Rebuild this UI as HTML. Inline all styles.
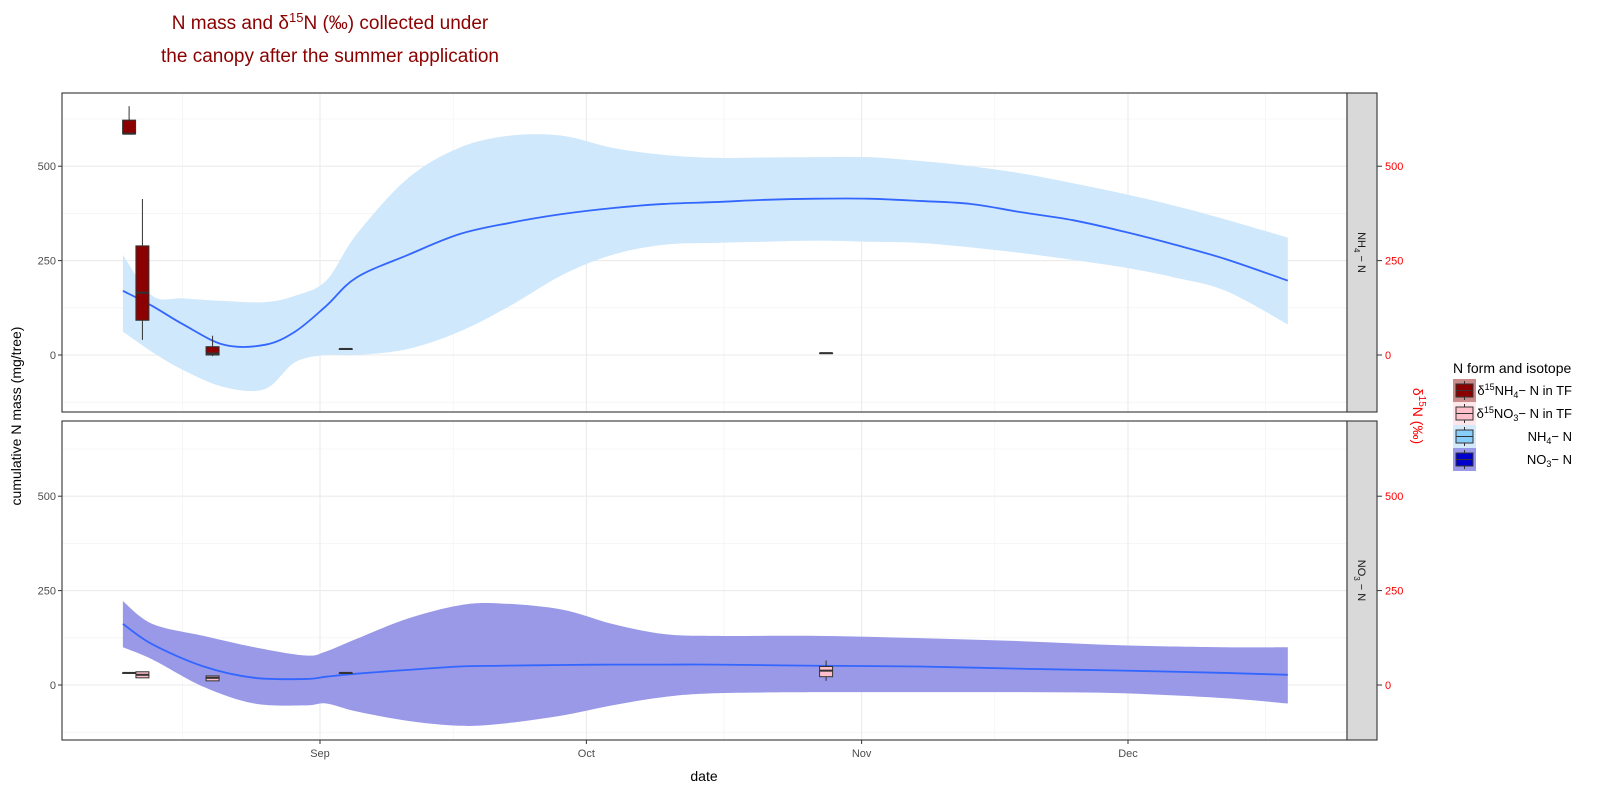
<!DOCTYPE html>
<html><head><meta charset="utf-8"><style>
body{margin:0;background:#fff;}
svg{display:block;font-family:"Liberation Sans",sans-serif;}
</style></head><body>
<svg id="chart" width="1601" height="788" xmlns="http://www.w3.org/2000/svg"></svg>
<script>
// ---- data (x = days since Sep 1) ----
const xTickLabels = ["Sep","Oct","Nov","Dec"];
const xTickDays = [0,30,61,91];
const yTickValues = [0,250,500];
// NH4 smooth
const nh4Days = [-22.2,-18.9,-15.4,-10.8,-6.2,-2.8,0.7,4.1,9.9,15.7,21.4,27.2,32.9,38.7,44.5,50.2,56,61.7,67.5,73.3,79,84.8,90.5,96.3,102,109];
const nh4Fit = [170,130,81,27,27,62,130,205,265,320,350,373,389,400,405,411,414,414,408,400,378,357,327,292,254,197];
const nh4Hi = [265,157,150,143,140,157,197,319,468,549,581,581,549,530,522,523,524,524,514,500,481,455,427,395,359,311];
const nh4Lo = [62,8,-40,-85,-90,-19,0,0,16,62,130,211,265,292,297,300,303,300,297,285,270,252,232,205,170,81];
// NO3 smooth
const no3Days = [-22.2,-18.9,-13.1,-7.4,-1.6,0.7,4.1,9.9,15.7,20.3,27.2,32.9,38.7,44.5,56,67.5,79,90.5,102,109];
const no3Fit = [162,108,49,19,16,22,30,40,49,51,53,54,54,54,51,49,43,38,32,27];
const no3Hi = [222,162,130,100,78,89,122,176,211,216,200,162,135,130,130,124,116,105,100,100];
const no3Lo = [100,68,-5,-49,-54,-49,-70,-95,-108,-103,-81,-54,-32,-22,-19,-19,-19,-22,-35,-49];
// boxplots delta15N (permil)
const boxNH4Days = [-21.5,-20,-12.1,2.9,57];
const boxNH4Min = [586,40,-3,16,5];
const boxNH4Q1 = [586,92,0,16,5];
const boxNH4Med = [586,165,4,16,5];
const boxNH4Q3 = [622,289,22,16,5];
const boxNH4Max = [659,413,51,16,5];
const boxNO3Days = [-21.5,-20,-12.1,2.9,57];
const boxNO3Min = [32,19,11,32,11];
const boxNO3Q1 = [32,19,11,32,22];
const boxNO3Med = [32,27,19,32,38];
const boxNO3Q3 = [32,35,24,32,49];
const boxNO3Max = [32,35,24,32,65];

const NS="http://www.w3.org/2000/svg";
const svg=document.getElementById('chart');
function el(tag,attrs,parent){const e=document.createElementNS(NS,tag);for(const k in attrs)e.setAttribute(k,attrs[k]);(parent||svg).appendChild(e);return e;}
const X0=62,X1=1347;
const xS=d=>320+d*8.879;
const panels=[{top:93,bot:412,zero:355,name:'nh4'},{top:421,bot:740,zero:685,name:'no3'}];
const K=0.3776;

function smoothPath(pts){
  let d=`M${pts[0][0]},${pts[0][1]}`;
  for(let i=0;i<pts.length-1;i++){
    const p0=pts[i-1]||pts[i],p1=pts[i],p2=pts[i+1],p3=pts[i+2]||p2;
    const c1=[p1[0]+(p2[0]-p0[0])/6,p1[1]+(p2[1]-p0[1])/6];
    const c2=[p2[0]-(p3[0]-p1[0])/6,p2[1]-(p3[1]-p1[1])/6];
    d+=` C${c1[0]},${c1[1]} ${c2[0]},${c2[1]} ${p2[0]},${p2[1]}`;
  }
  return d;
}

const t=el('text',{x:330,y:29,'text-anchor':'middle','font-size':19,fill:'#8B0000'});


t.innerHTML='N mass and δ<tspan dy="-7" font-size="13">15</tspan><tspan dy="7">N (‰) collected under</tspan>';
const t2=el('text',{x:330,y:62,'text-anchor':'middle','font-size':19,fill:'#8B0000'});


t2.textContent='the canopy after the summer application';

panels.forEach((P,pi)=>{
  const yS=v=>P.zero-v*K;
  const g=el('g',{});
  
  
  el('rect',{x:X0,y:P.top,width:X1-X0,height:P.bot-P.top,fill:'#fff'},g);
  const cp=el('clipPath',{id:'clip'+pi},g);
  el('rect',{x:X0,y:P.top,width:X1-X0,height:P.bot-P.top},cp);
  [-125,125,375,625].forEach(v=>el('line',{x1:X0,x2:X1,y1:yS(v),y2:yS(v),stroke:'#f0f0f0','stroke-width':0.6},g));
  [-15.5,15,45.5,76,106.5].forEach(d=>el('line',{x1:xS(d),x2:xS(d),y1:P.top,y2:P.bot,stroke:'#f0f0f0','stroke-width':0.6},g));
  yTickValues.forEach(v=>el('line',{x1:X0,x2:X1,y1:yS(v),y2:yS(v),stroke:'#ebebeb','stroke-width':1.1},g));
  xTickDays.forEach(d=>el('line',{x1:xS(d),x2:xS(d),y1:P.top,y2:P.bot,stroke:'#ebebeb','stroke-width':1.1},g));
  const days=pi?no3Days:nh4Days, fit=pi?no3Fit:nh4Fit, hi=pi?no3Hi:nh4Hi, lo=pi?no3Lo:nh4Lo;
  const cg=el('g',{'clip-path':`url(#clip${pi})`},g);
  const hiPts=days.map((d,i)=>[xS(d),yS(hi[i])]);
  const loPts=days.map((d,i)=>[xS(d),yS(lo[i])]).reverse();
  const band=el('path',{d:smoothPath(hiPts)+' L'+smoothPath(loPts).slice(1)+' Z',fill:pi?'#9999e8':'#cfe8fb'},cg);
  
  
  const ln=el('path',{d:smoothPath(days.map((d,i)=>[xS(d),yS(fit[i])])),fill:'none',stroke:'#3366FF','stroke-width':1.8},cg);
  
  
  const bd=pi?boxNO3Days:boxNH4Days, mn=pi?boxNO3Min:boxNH4Min, q1=pi?boxNO3Q1:boxNH4Q1, md=pi?boxNO3Med:boxNH4Med, q3=pi?boxNO3Q3:boxNH4Q3, mx=pi?boxNO3Max:boxNH4Max;
  bd.forEach((d,i)=>{
    const bx=el('g',{},cg);
    
    
    const cx=xS(d),w=13;
    el('line',{x1:cx,x2:cx,y1:yS(mx[i]),y2:yS(mn[i]),stroke:'#333','stroke-width':1},bx);
    el('rect',{x:cx-w/2,y:yS(q3[i]),width:w,height:Math.max(0.5,yS(q1[i])-yS(q3[i])),fill:pi?'#FFC0CB':'#8B0000',stroke:'#333','stroke-width':1},bx);
    el('line',{x1:cx-w/2,x2:cx+w/2,y1:yS(md[i]),y2:yS(md[i]),stroke:'#333','stroke-width':2},bx);
  });
  el('rect',{x:X0,y:P.top,width:X1-X0,height:P.bot-P.top,fill:'none',stroke:'#333','stroke-width':1.1},g);
  const st=el('rect',{x:X1,y:P.top,width:30,height:P.bot-P.top,fill:'#d9d9d9',stroke:'#333','stroke-width':1.1},g);
  
  
  const my=(P.top+P.bot)/2;
  const sl=el('text',{x:0,y:0,transform:`translate(${X1+11},${my}) rotate(90)`,'text-anchor':'middle','font-size':11,fill:'#1a1a1a'},g);
  sl.innerHTML=pi?'NO<tspan dy="4" font-size="8">3</tspan><tspan dy="-4"> − N</tspan>':'NH<tspan dy="4" font-size="8">4</tspan><tspan dy="-4"> − N</tspan>';
  yTickValues.forEach(v=>{
    el('line',{x1:X0-4,x2:X0,y1:yS(v),y2:yS(v),stroke:'#333'},g);
    el('text',{x:X0-6,y:yS(v)+4,'text-anchor':'end','font-size':11,fill:'#4d4d4d'},g).textContent=v;
    el('line',{x1:X1+30,x2:X1+35,y1:yS(v),y2:yS(v),stroke:'#333'},g);
    el('text',{x:X1+38,y:yS(v)+4,'font-size':11,fill:'#ff0000'},g).textContent=v;
  });
});
xTickDays.forEach((d,i)=>{
  el('line',{x1:xS(d),x2:xS(d),y1:740,y2:744,stroke:'#333'});
  const tx=el('text',{x:xS(d),y:757,'text-anchor':'middle','font-size':11,fill:'#4d4d4d'});
  
  
  tx.textContent=xTickLabels[i];
});
const xt=el('text',{x:704,y:781,'text-anchor':'middle','font-size':14,fill:'#000'});


xt.textContent='date';
const yt=el('text',{x:0,y:0,transform:'translate(21,416) rotate(-90)','text-anchor':'middle','font-size':14,fill:'#000'});


yt.textContent='cumulative N mass (mg/tree)';
const yr=el('text',{x:0,y:0,transform:'translate(1413,416) rotate(90)','text-anchor':'middle','font-size':14,fill:'#ff0000'});


yr.innerHTML='δ<tspan dy="-6" font-size="10">15</tspan><tspan dy="6">N (‰)</tspan>';
const lg=el('g',{});


el('text',{x:1453,y:373,'font-size':14,fill:'#000'},lg).textContent='N form and isotope';
const legBg=['#c98a8a','#ffe6ea','#d4eafb','#9999e8'];
const legFill=['#8B0000','#FFC0CB','#87CEFA','#0000CD'];
const legLab=['δ<tspan dy="-5" font-size="9">15</tspan><tspan dy="5">NH</tspan><tspan dy="3" font-size="9">4</tspan><tspan dy="-3">− N in TF</tspan>',
 'δ<tspan dy="-5" font-size="9">15</tspan><tspan dy="5">NO</tspan><tspan dy="3" font-size="9">3</tspan><tspan dy="-3">− N in TF</tspan>',
 'NH<tspan dy="3" font-size="9">4</tspan><tspan dy="-3">− N</tspan>','NO<tspan dy="3" font-size="9">3</tspan><tspan dy="-3">− N</tspan>'];
legLab.forEach((lab,i)=>{
  const y=379+i*23;
  const it=el('g',{},lg);
  
  
  el('rect',{x:1453,y:y,width:23,height:23,fill:legBg[i]},it);
  el('line',{x1:1464.5,x2:1464.5,y1:y+2,y2:y+21,stroke:'#333'},it);
  el('rect',{x:1456,y:y+5,width:17,height:13,fill:legFill[i],stroke:'#333'},it);
  el('line',{x1:1456,x2:1473,y1:y+11.5,y2:y+11.5,stroke:'#333'},it);
  el('text',{x:1572,y:y+16,'text-anchor':'end','font-size':13,fill:'#000'},it).innerHTML=lab;
});
</script>
</body></html>
